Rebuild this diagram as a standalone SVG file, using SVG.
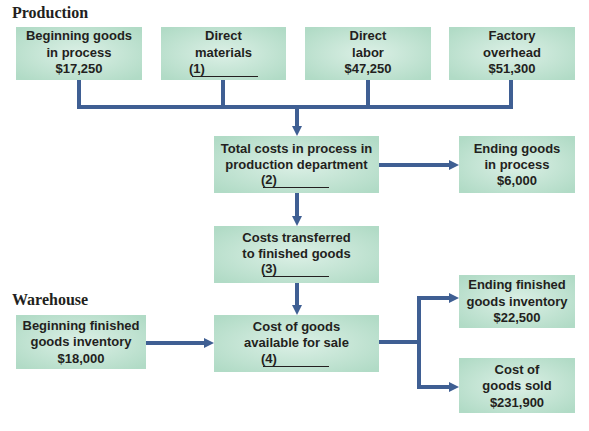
<svg xmlns="http://www.w3.org/2000/svg" width="589" height="431" viewBox="0 0 589 431">
<defs>
<radialGradient id="g" cx="50%" cy="50%" r="65%">
<stop offset="0" stop-color="#dcf0e6"/>
<stop offset="1" stop-color="#b1dbc6"/>
</radialGradient>
<marker id="ah" viewBox="0 0 10 10" refX="0" refY="5" markerWidth="10" markerHeight="10" markerUnits="userSpaceOnUse" orient="auto">
<path d="M0,0 L10,5 L0,10 z" fill="#3f5f93"/>
</marker>
</defs>
<style>
.box{fill:url(#g);}
.t{font-family:"Liberation Sans",Arial,sans-serif;font-weight:bold;font-size:13px;fill:#231f20;text-anchor:middle;}
.tl{font-family:"Liberation Sans",Arial,sans-serif;font-weight:bold;font-size:13px;fill:#231f20;}
.ul{stroke:#231f20;stroke-width:1;}
.sec{font-family:"Liberation Serif","Times New Roman",serif;font-weight:bold;font-size:16px;fill:#231f20;}
.c{fill:none;stroke:#3f5f93;stroke-width:4;}
.ca{fill:none;stroke:#3f5f93;stroke-width:4;marker-end:url(#ah);}
</style>
<rect width="589" height="431" fill="#ffffff"/>
<text class="sec" x="12" y="18">Production</text>
<text class="sec" x="12" y="305">Warehouse</text>

<g id="connectors">
<path class="c" d="M79,80 V107 H511 V80"/>
<path class="c" d="M223,80 V107"/>
<path class="c" d="M368,80 V107"/>
<path class="ca" d="M297,107 V126"/>
<path class="ca" d="M379,165 H449"/>
<path class="ca" d="M297,193 V216"/>
<path class="ca" d="M297,283 V305"/>
<path class="ca" d="M146,343 H204"/>
<path class="c" d="M379,342 H419"/>
<path class="ca" d="M419,342 V298 H449"/>
<path class="ca" d="M419,342 V387 H449"/>
</g>

<g id="beginning-gip">
<rect class="box" x="16" y="27" width="126" height="53"/>
<text class="t" x="79" y="40">Beginning goods</text>
<text class="t" x="79" y="57">in process</text>
<text class="t" x="79" y="73">$17,250</text>
</g>
<g id="direct-materials">
<rect class="box" x="161" y="27" width="125" height="53"/>
<text class="t" x="223.5" y="40">Direct</text>
<text class="t" x="223.5" y="57">materials</text>
<text class="tl" x="189" y="73">(1)</text>
<line class="ul" x1="192" y1="76.5" x2="258" y2="76.5"/>
</g>
<g id="direct-labor">
<rect class="box" x="305" y="27" width="126" height="53"/>
<text class="t" x="368" y="40">Direct</text>
<text class="t" x="368" y="57">labor</text>
<text class="t" x="368" y="73">$47,250</text>
</g>
<g id="factory-overhead">
<rect class="box" x="449" y="27" width="126" height="53"/>
<text class="t" x="512" y="40">Factory</text>
<text class="t" x="512" y="57">overhead</text>
<text class="t" x="512" y="73">$51,300</text>
</g>
<g id="total-costs">
<rect class="box" x="214" y="136" width="165" height="57"/>
<text class="t" x="296.5" y="153">Total costs in process in</text>
<text class="t" x="296.5" y="169">production department</text>
<text class="tl" x="261" y="184">(2)</text>
<line class="ul" x1="263" y1="187.5" x2="329" y2="187.5"/>
</g>
<g id="ending-gip">
<rect class="box" x="459" y="136" width="116" height="57"/>
<text class="t" x="517" y="153">Ending goods</text>
<text class="t" x="517" y="169">in process</text>
<text class="t" x="517" y="185">$6,000</text>
</g>
<g id="costs-transferred">
<rect class="box" x="214" y="226" width="165" height="57"/>
<text class="t" x="296.5" y="242">Costs transferred</text>
<text class="t" x="296.5" y="258">to finished goods</text>
<text class="tl" x="261" y="273">(3)</text>
<line class="ul" x1="263" y1="276.5" x2="329" y2="276.5"/>
</g>
<g id="beginning-fgi">
<rect class="box" x="16" y="315" width="130" height="54"/>
<text class="t" x="81" y="330">Beginning finished</text>
<text class="t" x="81" y="346">goods inventory</text>
<text class="t" x="81" y="363">$18,000</text>
</g>
<g id="cost-available">
<rect class="box" x="214" y="315" width="165" height="57"/>
<text class="t" x="296.5" y="331">Cost of goods</text>
<text class="t" x="296.5" y="347">available for sale</text>
<text class="tl" x="261" y="363">(4)</text>
<line class="ul" x1="263" y1="366.5" x2="329" y2="366.5"/>
</g>
<g id="ending-fgi">
<rect class="box" x="459" y="275" width="116" height="53"/>
<text class="t" x="517" y="289">Ending finished</text>
<text class="t" x="517" y="306">goods inventory</text>
<text class="t" x="517" y="322">$22,500</text>
</g>
<g id="cogs">
<rect class="box" x="459" y="358" width="116" height="55"/>
<text class="t" x="517" y="374">Cost of</text>
<text class="t" x="517" y="390">goods sold</text>
<text class="t" x="517" y="407">$231,900</text>
</g>
</svg>
